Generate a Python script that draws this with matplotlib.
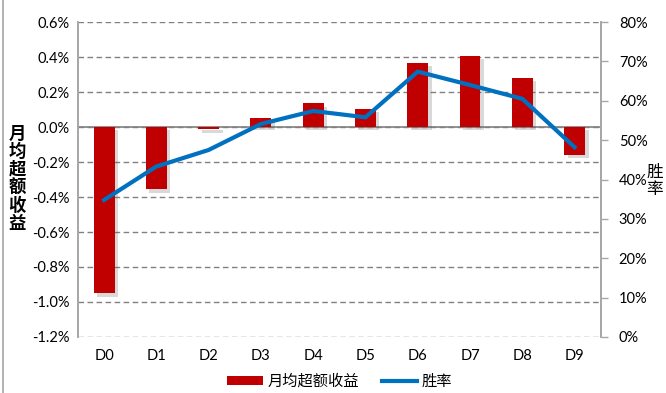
import numpy as np
import matplotlib
matplotlib.use("Agg")
import matplotlib.pyplot as plt
import matplotlib.patheffects as pe
from matplotlib.patches import Patch
from matplotlib.lines import Line2D
from matplotlib.ticker import FuncFormatter, MultipleLocator

plt.rcParams["font.family"] = ["Lato", "Noto Sans CJK SC", "DejaVu Sans"]

# ── data ─────────────────────────────────────────────────────────────────────
groups     = ["D0", "D1", "D2", "D3", "D4", "D5", "D6", "D7", "D8", "D9"]
excess_ret = [-0.95, -0.356, -0.013, 0.05, 0.137, 0.105, 0.368, 0.408, 0.28, -0.158]   # %
win_rate   = [34.8, 43.3, 47.5, 54.1, 57.4, 55.8, 67.4, 64.0, 60.5, 48.2]              # %

BAR_NAME  = "月均超额收益"
LINE_NAME = "胜率"
RED, BLUE, GRID = "#C00000", "#0070C0", "#808080"

# ── figure ───────────────────────────────────────────────────────────────────
fig = plt.figure(figsize=(6.66, 3.93), dpi=100)
ax = fig.add_axes([0.117, 0.1425, 0.785, 0.8015])
ax2 = ax.twinx()

x = np.arange(len(groups))
bars = ax.bar(x, excess_ret, width=0.4, color=RED, zorder=3)
for b in bars:
    b.set_path_effects([pe.SimplePatchShadow(offset=(2.5, -2.5), shadow_rgbFace="#555555", alpha=0.22),
                        pe.Normal()])

ax.set_ylim(-1.2, 0.6)
ax.set_xlim(-0.5, len(groups) - 0.5)
ax.yaxis.set_major_locator(MultipleLocator(0.2))
ax.yaxis.set_major_formatter(FuncFormatter(lambda v, _: f"{v:.1f}%"))
ax.grid(axis="y", color=GRID, ls=(0, (4, 2.5)), lw=1.0, zorder=0)
ax.axhline(0, color=GRID, lw=1.2, zorder=2)
ax.set_xticks(x)
ax.set_xticklabels(groups)
ax.tick_params(axis="x", length=0, pad=9, labelsize=10.5)
ax.tick_params(axis="y", length=0, pad=6, labelsize=10.5)

ax2.plot(x, win_rate, color=BLUE, lw=3, solid_joinstyle="round", zorder=4)
ax2.set_ylim(0, 80)
ax2.yaxis.set_major_locator(MultipleLocator(10))
ax2.yaxis.set_major_formatter(FuncFormatter(lambda v, _: f"{v:.0f}%"))
ax2.tick_params(axis="y", length=5, width=1, color="#A6A6A6", pad=8, labelsize=10.5)

for a in (ax, ax2):
    for s in ("top", "bottom"):
        a.spines[s].set_visible(False)
    a.spines["left"].set_color("#A6A6A6")
    a.spines["right"].set_color("#A6A6A6")
    a.spines["left"].set_linewidth(1.2)
    a.spines["right"].set_linewidth(1.2)

# stacked vertical axis titles
fig.text(0.026, 0.545, "\n".join(BAR_NAME), ha="center", va="center",
         fontsize=12.5, fontweight="bold", linespacing=1.0,
         family=["Noto Sans CJK SC", "DejaVu Sans"])
fig.text(0.983, 0.54, "\n".join(LINE_NAME), ha="center", va="center",
         fontsize=12, linespacing=1.0,
         family=["Noto Sans CJK SC", "DejaVu Sans"])

handles = [Patch(facecolor=RED, edgecolor="none", label=BAR_NAME),
           Line2D([], [], color=BLUE, lw=3, label=LINE_NAME)]
fig.legend(handles=handles, loc="center", bbox_to_anchor=(0.51, 0.03), ncol=2,
           frameon=False, handlelength=2.3, handleheight=0.55, handletextpad=0.3,
           columnspacing=1.5, prop={"family": ["Noto Sans CJK SC", "DejaVu Sans"], "size": 11})

# left border of the chart area
fig.add_artist(Line2D([0.004, 0.004], [0, 1], transform=fig.transFigure,
                      color="#A6A6A6", lw=1.2))

fig.savefig("out.png", dpi=100)
